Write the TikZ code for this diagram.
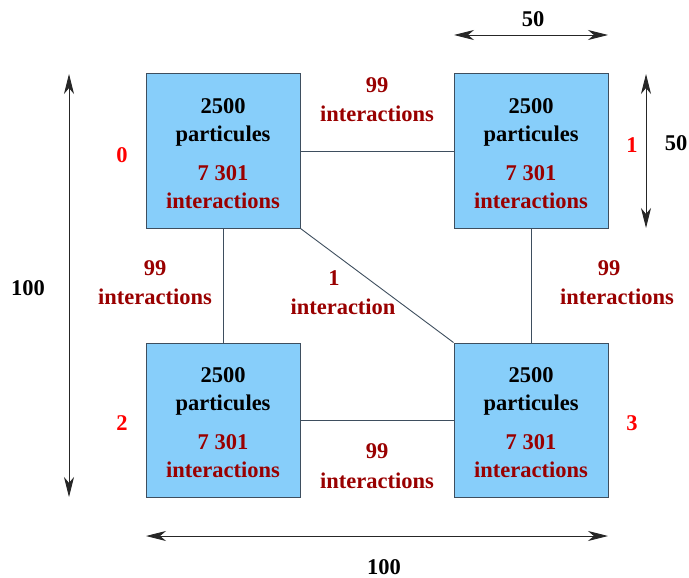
\documentclass[tikz,border=0pt]{standalone}
\usepackage{fontspec}
\setmainfont{Liberation Serif}
\usetikzlibrary{arrows.meta}
\definecolor{boxfill}{HTML}{87CEFA}
\definecolor{boxline}{HTML}{3E4E5E}
\definecolor{darkred}{HTML}{990000}
\definecolor{numred}{HTML}{FF0000}
\tikzset{
  part/.style={draw=boxline, fill=boxfill, line width=1pt, minimum width=154pt, minimum height=154pt, inner sep=0pt},
  txt/.style={anchor=base, inner sep=0pt, font=\fontsize{22.5}{27}\selectfont\bfseries},
  blk/.style={txt, text=black},
  drk/.style={txt, text=darkred},
  num/.style={txt, text=numred},
  link/.style={draw=boxline, line width=0.9pt},
  dim/.style={draw=black!85, line width=0.9pt, {Stealth[length=20pt,width=10pt,inset=6pt]}-{Stealth[length=20pt,width=10pt,inset=6pt]}}
}
\begin{document}
\begin{tikzpicture}[x=1pt,y=-1pt]
\useasboundingbox (0,0) rectangle (689,578);
% boxes
\node[part] (b0) at (223,151) {};
\node[part] (b1) at (531,151) {};
\node[part] (b2) at (223,420) {};
\node[part] (b3) at (531,420) {};
% links
\draw[link] (b0.east) -- (b1.west);
\draw[link] (b0.south) -- (b2.north);
\draw[link] (b1.south) -- (b3.north);
\draw[link] (b2.east) -- (b3.west);
\draw[link] (b0.south east) -- (b3.north west);
% box texts
\foreach \n/\x/\y in {0/223/74, 1/531/74, 2/223/343, 3/531/343}{
  \node[blk] (p\n a) at (\x,\y+39.7) {2500};
  \node[blk] (p\n b) at (\x,\y+67.3) {particules};
  \node[drk] (p\n c) at (\x,\y+106.3) {7 301};
  \node[drk] (p\n d) at (\x,\y+134) {interactions};
}
% link labels
\node[drk] (ta) at (377,92.5) {99};
\node[drk] (tb) at (377,121.5) {interactions};
\node[drk] (la) at (155,275.5) {99};
\node[drk] (lb) at (155,304.5) {interactions};
\node[drk] (ra) at (609,275.5) {99};
\node[drk] (rb) at (617,304.5) {interactions};
\node[drk] (da) at (334,285.5) {1};
\node[drk] (db) at (343,314.5) {interaction};
\node[drk] (ba) at (377,458.5) {99};
\node[drk] (bb) at (377,488.5) {interactions};
% numbers
\node[num] (n0) at (122,162.5) {0};
\node[num] (n1) at (632,152.5) {1};
\node[num] (n2) at (122,430.5) {2};
\node[num] (n3) at (632,430.5) {3};
% dimensions
\coordinate (lt) at (69,74);
\coordinate (lb2) at (69,497);
\draw[dim] (lt) -- (lb2);
\node[blk] (d100l) at (28,295.5) {100};
\coordinate (bl) at (146,536);
\coordinate (br) at (608,536);
\draw[dim] (bl) -- (br);
\node[blk] (d100b) at (384,574.5) {100};
\coordinate (tl) at (454,35);
\coordinate (tr) at (608,35);
\draw[dim] (tl) -- (tr);
\node[blk] (d50t) at (533,26.5) {50};
\coordinate (rt) at (646,74);
\coordinate (rbt) at (646,228);
\draw[dim] (rt) -- (rbt);
\node[blk] (d50r) at (676,150.5) {50};
\end{tikzpicture}
\end{document}
